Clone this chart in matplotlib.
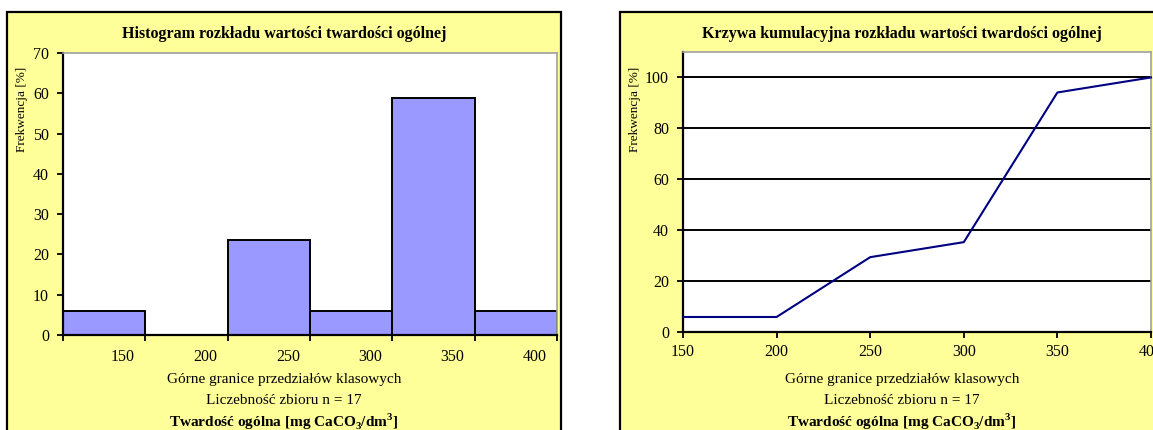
import matplotlib
matplotlib.use("Agg")
import matplotlib.pyplot as plt
from matplotlib.patches import Rectangle

plt.rcParams['font.family'] = ['Liberation Serif', 'DejaVu Serif']
plt.rcParams['mathtext.fontset'] = 'custom'
plt.rcParams['mathtext.rm'] = 'Liberation Serif'
plt.rcParams['mathtext.bf'] = 'Liberation Serif:bold'

# histogram data (n = 17)
bin_labels = ['150', '200', '250', '300', '350', '400']
freq = [5.9, 0.0, 23.5, 5.9, 58.8, 5.9]

# cumulative curve data
cum_x = [150, 200, 250, 300, 350, 400]
cum_y = [5.9, 5.9, 29.4, 35.3, 94.1, 100.0]

W, H = 1153, 430
fig = plt.figure(figsize=(W / 100, H / 100), dpi=100)
fig.patch.set_facecolor('white')

def fx(x):
    return x / W

def fy(y):
    return 1 - y / H

yellow = '#FFFF99'
# panel boxes
for x0, x1 in [(7, 561), (620, 1184)]:
    fig.patches.append(Rectangle((fx(x0), fy(440)), fx(x1 - x0), (440 - 12) / H,
                                 transform=fig.transFigure, facecolor=yellow,
                                 edgecolor='black', linewidth=1.6, zorder=-5))

def style_axes(ax):
    ax.set_zorder(2)
    ax.set_facecolor('white')
    for s in ['top', 'right']:
        ax.spines[s].set_color('#a0a0a0')
        ax.spines[s].set_linewidth(1.2)
    for s in ['left', 'bottom']:
        ax.spines[s].set_color('black')
        ax.spines[s].set_linewidth(1.6)
    ax.tick_params(axis='both', direction='out', length=4, width=1.3,
                   labelsize=11.5, colors='black')

# ---------- left: histogram ----------
ax1 = fig.add_axes([fx(63), fy(335), fx(557 - 63), (335 - 53) / H])
style_axes(ax1)
pos = list(range(len(freq)))
ax1.bar(pos, freq, width=1.0, align='edge', color='#9999FF',
        edgecolor='black', linewidth=1.4, zorder=2)
ax1.set_xlim(0, len(freq))
ax1.set_ylim(0, 70)
ax1.set_yticks(range(0, 71, 10))
ax1.set_xticks(range(0, len(freq) + 1))
ax1.set_xticklabels([])
ax1.set_xticks([p + 0.73 for p in pos], minor=True)
ax1.set_xticklabels(bin_labels, minor=True)
ax1.tick_params(axis='x', which='minor', length=0, pad=10, labelsize=11.5)
ax1.tick_params(axis='y', pad=6)

# ---------- right: cumulative curve ----------
ax2 = fig.add_axes([fx(683), fy(332), fx(1151 - 683), (332 - 52) / H])
style_axes(ax2)
ax2.set_xlim(150, 400)
ax2.set_ylim(0, 110)
ax2.set_xticks(range(150, 401, 50))
ax2.set_yticks(range(0, 101, 20))
ax2.tick_params(axis='x', pad=5)
ax2.tick_params(axis='y', pad=6)
for g in range(20, 101, 20):
    ax2.axhline(g, color='black', linewidth=1.4, zorder=1)
ax2.plot(cum_x, cum_y, color='#000080', linewidth=1.5, zorder=3, clip_on=False)

# ---------- texts ----------
titles = ['Histogram rozkładu wartości twardości ogólnej',
          'Krzywa kumulacyjna rozkładu wartości twardości ogólnej']
centers = [284, 902]
for t, c in zip(titles, centers):
    fig.text(fx(c), fy(34), t, ha='center', va='center',
             fontsize=11.5, fontweight='bold')
    fig.text(fx(c), fy(380), 'Górne granice przedziałów klasowych',
             ha='center', va='center', fontsize=11)
    fig.text(fx(c), fy(401), 'Liczebność zbioru n = 17',
             ha='center', va='center', fontsize=11)
    fig.text(fx(c), fy(422),
             r'Twardość ogólna [mg CaCO$_{\mathbf{3}}$/dm$^{\mathbf{3}}$]',
             ha='center', va='center', fontsize=11, fontweight='bold')

for x in [22, 635]:
    fig.text(fx(x), fy(109), 'Frekwencja [%]', rotation=90,
             ha='center', va='center', fontsize=9.5)

fig.savefig('out.png', dpi=100, facecolor='white')
